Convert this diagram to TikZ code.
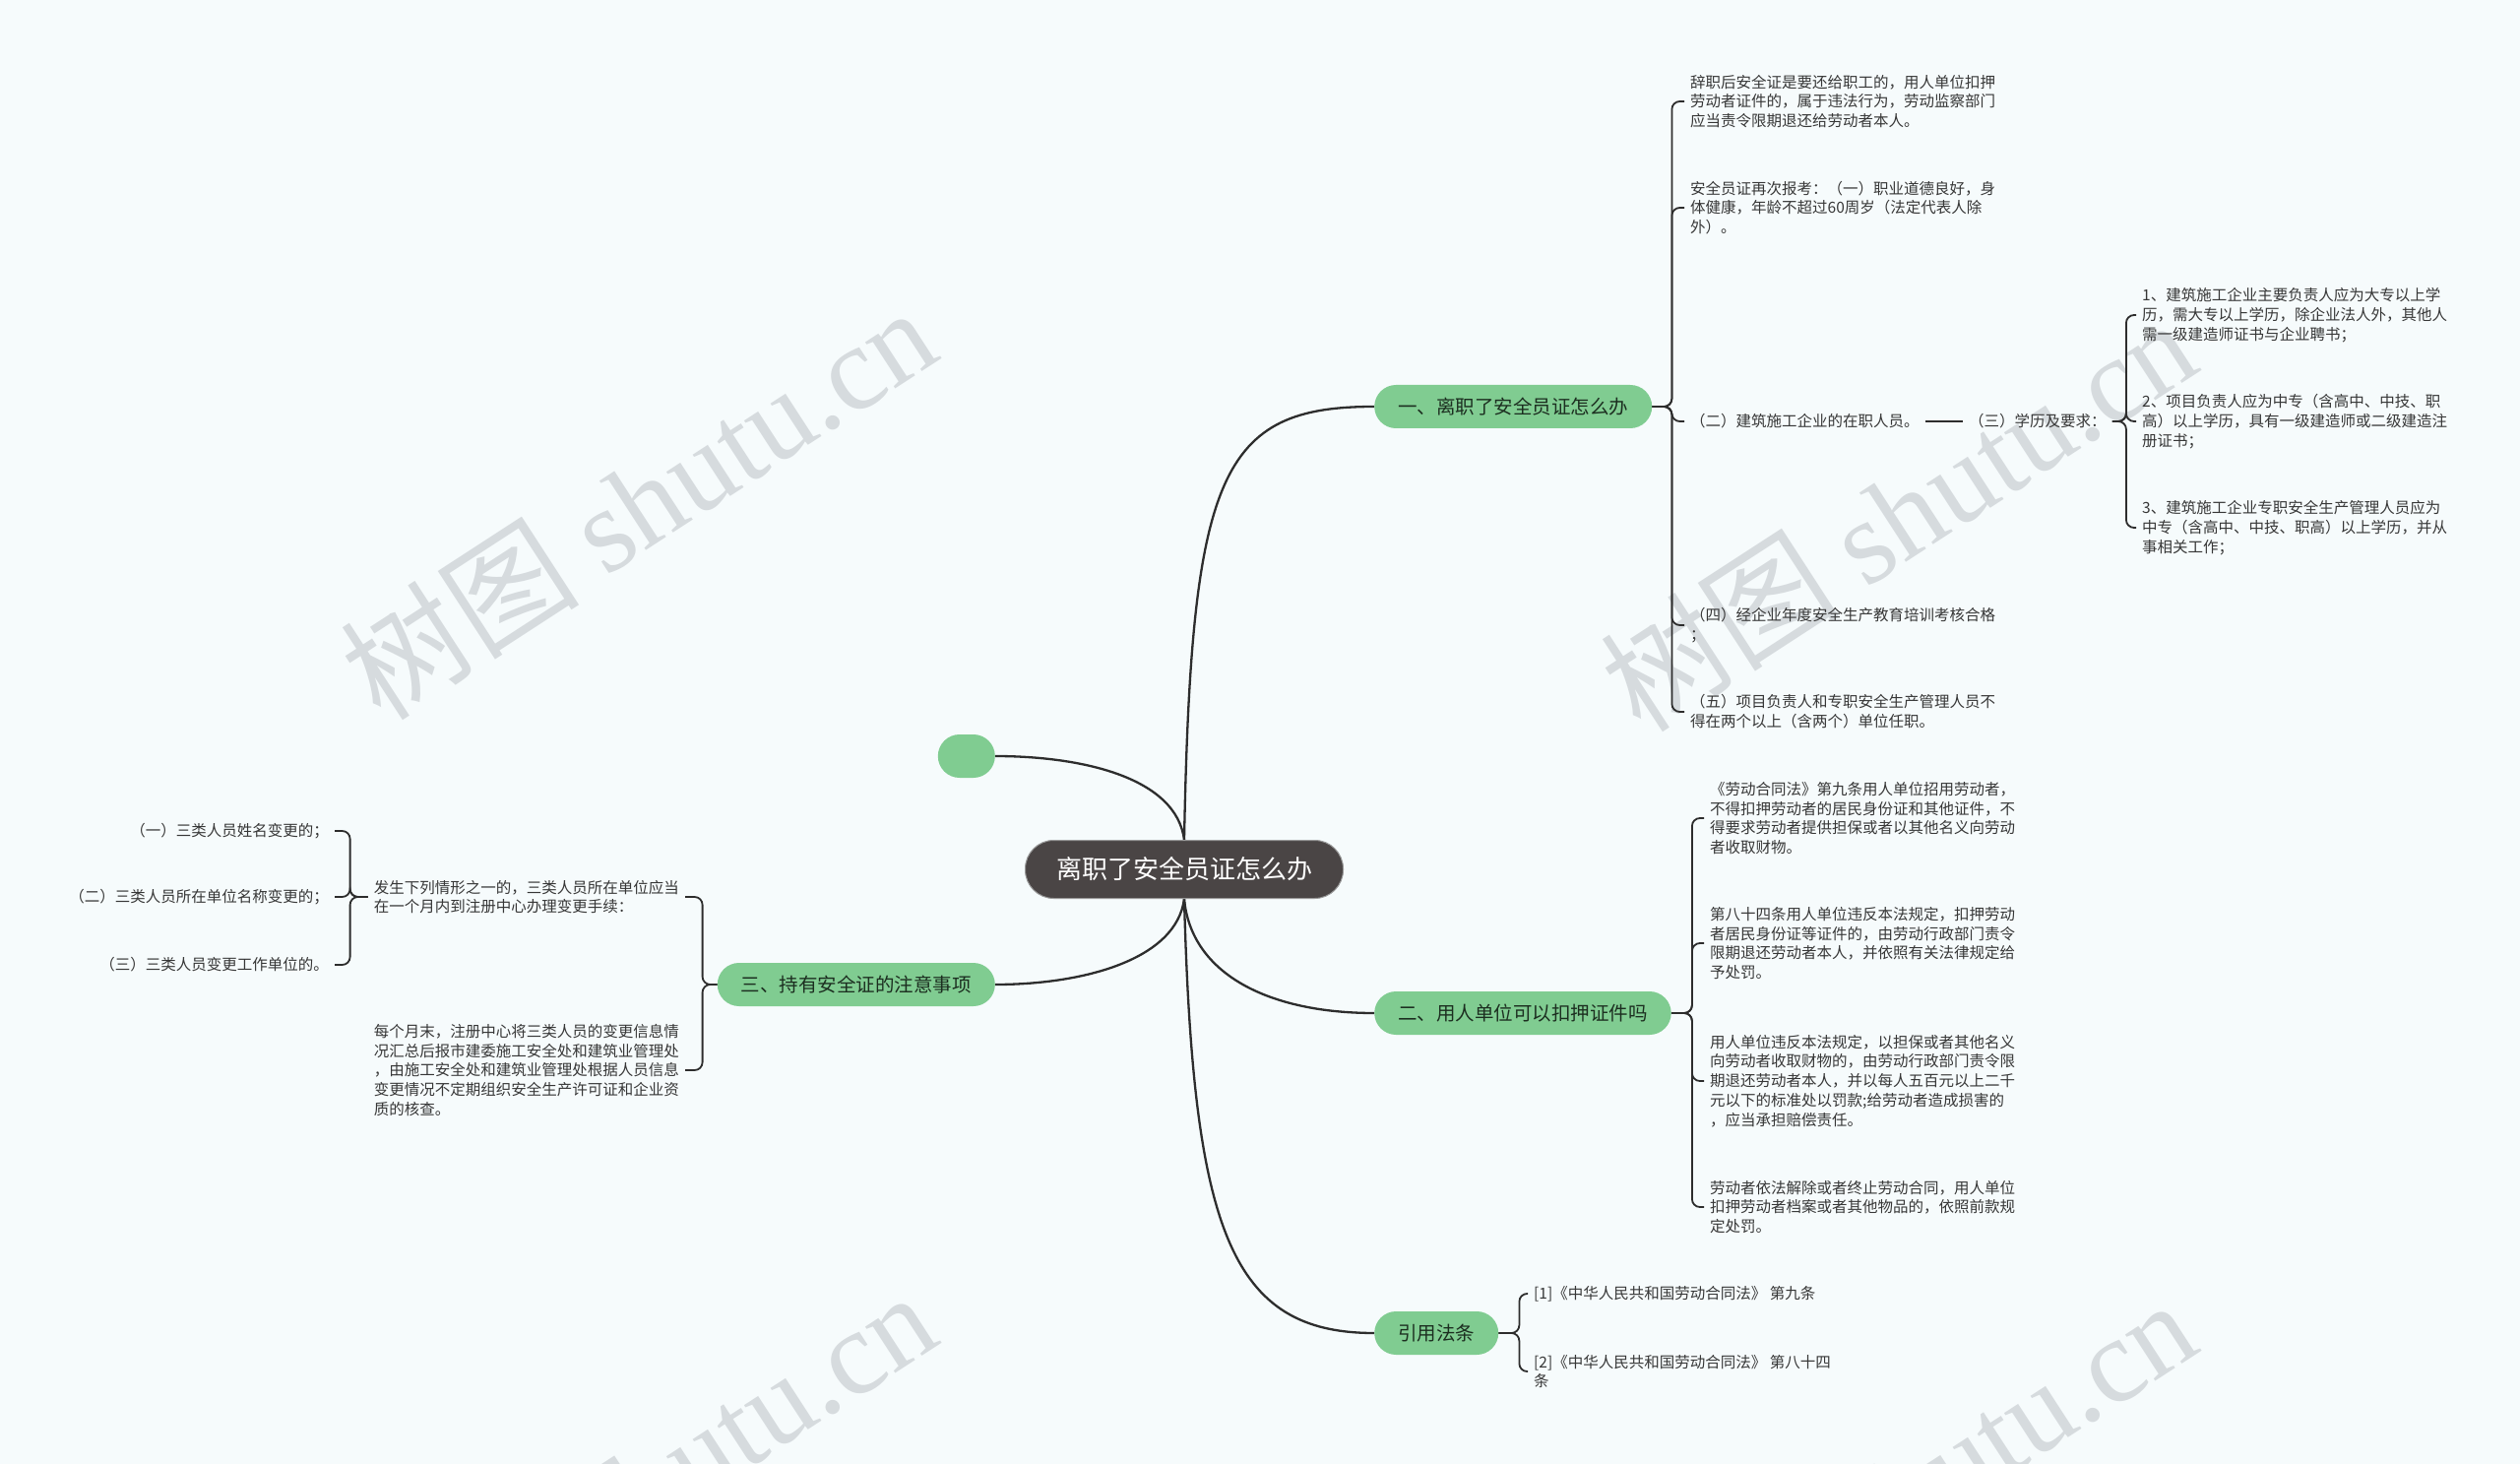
\documentclass[tikz,border=0pt]{standalone}
\usepackage{fontspec}
\setmainfont{Noto Sans CJK SC}
\newfontfamily\wmserif{Liberation Serif}
\usetikzlibrary{positioning,backgrounds}
\definecolor{mmbg}{RGB}{246,251,252}
\definecolor{mmline}{RGB}{45,45,45}
\definecolor{mmroot}{RGB}{74,69,69}
\definecolor{mmtopic}{RGB}{128,204,145}
\definecolor{mmtopictext}{RGB}{28,46,32}
\definecolor{mmtext}{RGB}{55,55,55}
\definecolor{mmwater}{RGB}{214,219,222}
\tikzset{
  rootbox/.style={
    fill=mmroot, draw=black!40, line width=1pt, text=white,
    rounded corners=29pt, minimum width=323pt, minimum height=59pt,
    font=\fontsize{26}{30}\selectfont
  },
  topic/.style={
    fill=mmtopic, draw=none, text=mmtopictext, rounded corners=22pt,
    minimum height=44pt, inner xsep=24pt, font=\fontsize{19.5}{24}\selectfont
  },
  leaf/.style={
    text=mmtext, align=left, inner xsep=6pt, inner ysep=3pt,
    font=\fontsize{15.5}{19.8}\selectfont
  },
  leafr/.style={leaf, align=right},
  link/.style={draw=mmline, line width=2.3pt},
  brk/.style={draw=mmline, line width=1.8pt, rounded corners=8pt},
  wmark/.style={text=mmwater, rotate=33, font=\fontsize{122}{122}\selectfont}
}

\begin{document}
\begin{tikzpicture}[x=1pt, y=-1pt]
  \useasboundingbox (0,0) rectangle (2560,1487);
  % centre and main topics
  \node[rootbox] (root) at (1203,883) {离职了安全员证怎么办};
  \node[topic, anchor=west] (t1) at (1396,413) {一、离职了安全员证怎么办};
  \node[topic, anchor=west] (t2) at (1396,1029) {二、用人单位可以扣押证件吗};
  \node[topic, anchor=west] (t4) at (1396,1354) {引用法条};
  \node[topic, anchor=east] (t3) at (1011,1000) {三、持有安全证的注意事项};
  \node[topic, anchor=east, minimum width=58pt, inner xsep=0pt] (t0) at (1011,768) {};

  % topic one
  \node[leaf, anchor=west] (a1) at (1711,103)
    {辞职后安全证是要还给职工的，用人单位扣押\\劳动者证件的，属于违法行为，劳动监察部门\\应当责令限期退还给劳动者本人。};
  \node[leaf, anchor=west] (a2) at (1711,211)
    {安全员证再次报考：（一）职业道德良好，身\\体健康，年龄不超过60周岁（法定代表人除\\外）。};
  \node[leaf, anchor=west] (a3) at (1711,428) {（二）建筑施工企业的在职人员。};
  \node[leaf, anchor=west] (a4) at (1711,635)
    {（四）经企业年度安全生产教育培训考核合格\\；};
  \node[leaf, anchor=west] (a5) at (1711,723)
    {（五）项目负责人和专职安全生产管理人员不\\得在两个以上（含两个）单位任职。};
  \node[leaf, anchor=west] (a3b) at (1994,428) {（三）学历及要求：};
  \node[leaf, anchor=west] (d1) at (2170,320)
    {1、建筑施工企业主要负责人应为大专以上学\\历，需大专以上学历，除企业法人外，其他人\\需一级建造师证书与企业聘书；};
  \node[leaf, anchor=west] (d2) at (2170,428)
    {2、项目负责人应为中专（含高中、中技、职\\高）以上学历，具有一级建造师或二级建造注\\册证书；};
  \node[leaf, anchor=west] (d3) at (2170,536)
    {3、建筑施工企业专职安全生产管理人员应为\\中专（含高中、中技、职高）以上学历，并从\\事相关工作；};

  % topic two
  \node[leaf, anchor=west] (e1) at (1731,831)
    {《劳动合同法》第九条用人单位招用劳动者，\\不得扣押劳动者的居民身份证和其他证件，不\\得要求劳动者提供担保或者以其他名义向劳动\\者收取财物。};
  \node[leaf, anchor=west] (e2) at (1731,958)
    {第八十四条用人单位违反本法规定，扣押劳动\\者居民身份证等证件的，由劳动行政部门责令\\限期退还劳动者本人，并依照有关法律规定给\\予处罚。};
  \node[leaf, anchor=west] (e3) at (1731,1098)
    {用人单位违反本法规定，以担保或者其他名义\\向劳动者收取财物的，由劳动行政部门责令限\\期退还劳动者本人，并以每人五百元以上二千\\元以下的标准处以罚款;给劳动者造成损害的\\，应当承担赔偿责任。};
  \node[leaf, anchor=west] (e4) at (1731,1226)
    {劳动者依法解除或者终止劳动合同，用人单位\\扣押劳动者档案或者其他物品的，依照前款规\\定处罚。};

  % citations
  \node[leaf, anchor=west] (f1) at (1552,1314) {[1]《中华人民共和国劳动合同法》 第九条};
  \node[leaf, anchor=west] (f2) at (1552,1393) {[2]《中华人民共和国劳动合同法》 第八十四\\条};

  % topic three
  \node[leaf, anchor=east] (g1) at (696,911)
    {发生下列情形之一的，三类人员所在单位应当\\在一个月内到注册中心办理变更手续：};
  \node[leaf, anchor=east] (g2) at (696,1087)
    {每个月末，注册中心将三类人员的变更信息情\\况汇总后报市建委施工安全处和建筑业管理处\\，由施工安全处和建筑业管理处根据人员信息\\变更情况不定期组织安全生产许可证和企业资\\质的核查。};
  \node[leafr, anchor=east] (h1) at (340,844) {（一）三类人员姓名变更的；};
  \node[leafr, anchor=east] (h2) at (340,911) {（二）三类人员所在单位名称变更的；};
  \node[leafr, anchor=east] (h3) at (340,980) {（三）三类人员变更工作单位的。};

  \begin{scope}[on background layer]
    \fill[mmbg] (0,0) rectangle (2560,1487);
    \clip (0,0) rectangle (2560,1487);
    \foreach \wx/\wy in {648/510,1928/522,648/1510,1928/1518}
      \node[wmark] at (\wx,\wy) {树图 {\wmserif shutu.cn}};
    % links from the centre
    \draw[link] (root.north) .. controls (1210,480) and (1240,413) .. (t1.west);
    \draw[link] (root.north) .. controls (1195,790) and (1100,768) .. (t0.east);
    \draw[link] (root.south) .. controls (1195,975) and (1100,1000) .. (t3.east);
    \draw[link] (root.south) .. controls (1210,990) and (1290,1029) .. (t2.west);
    \draw[link] (root.south) .. controls (1212,1250) and (1250,1354) .. (t4.west);
    % brackets
    \foreach \c in {a1,a2,a3,a4,a5} \draw[brk] (t1.east) -- ++(20,0) |- (\c.west);
    \draw[brk] (a3.east) -- (a3b.west);
    \foreach \c in {d1,d2,d3} \draw[brk] (a3b.east) -- ++(14,0) |- (\c.west);
    \foreach \c in {e1,e2,e3,e4} \draw[brk] (t2.east) -- ++(21,0) |- (\c.west);
    \foreach \c in {f1,f2} \draw[brk] (t4.east) -- ++(21,0) |- (\c.west);
    \foreach \c in {g1,g2} \draw[brk] (t3.west) -- ++(-15,0) |- (\c.east);
    \foreach \c in {h1,h2,h3} \draw[brk] (g1.west) -- ++(-18,0) |- (\c.east);
  \end{scope}
\end{tikzpicture}
\end{document}
